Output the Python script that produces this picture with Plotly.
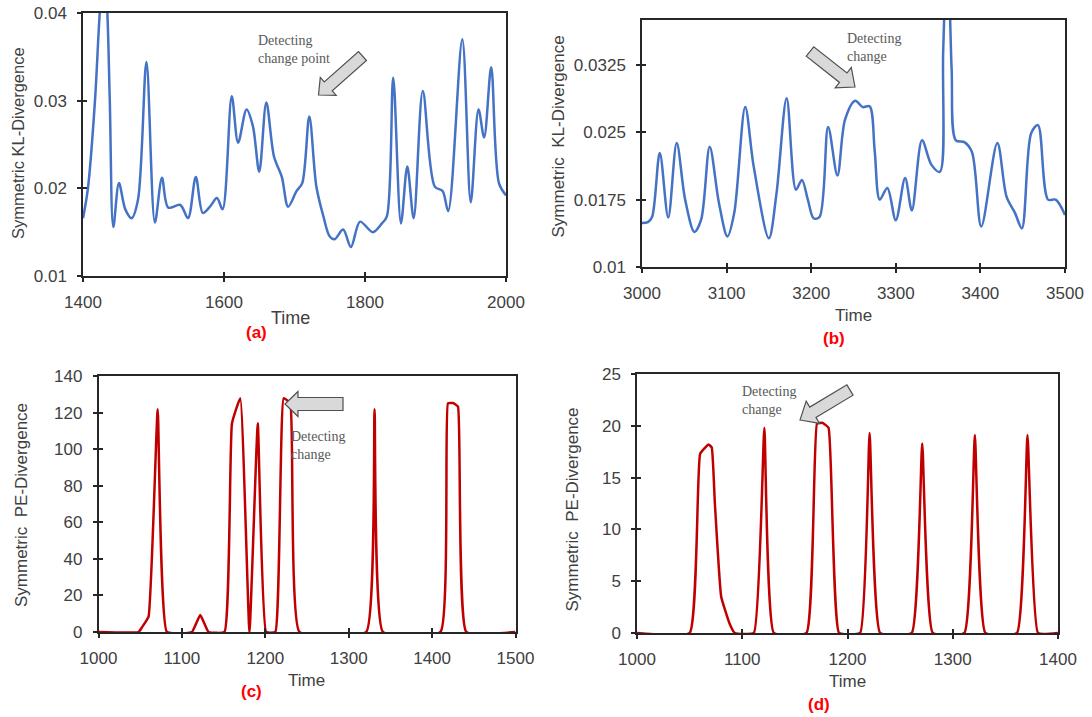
import math
import plotly.graph_objects as go

W, H = 1092, 717

# ---------------- data ----------------
kl_a_time = [1400, 1407, 1417, 1423, 1429, 1434, 1438, 1443, 1451, 1460, 1469, 1478, 1490, 1502,
             1512, 1521, 1538, 1549, 1560, 1570, 1580, 1590, 1598, 1611, 1620, 1632, 1641, 1650,
             1660, 1671, 1682, 1691, 1703, 1711, 1721, 1731, 1741, 1750, 1757, 1769, 1780, 1793,
             1811, 1824, 1831, 1840, 1851, 1860, 1869, 1882, 1899, 1910, 1918, 1938, 1950, 1961,
             1969, 1979, 1990, 2000]
kl_a_value = [0.0166, 0.0200, 0.0300, 0.0390, 0.0460, 0.0410, 0.0300, 0.0156, 0.0206, 0.0176,
              0.0166, 0.0187, 0.0344, 0.0161, 0.0212, 0.0178, 0.0181, 0.0166, 0.0213, 0.0172,
              0.0179, 0.0189, 0.0176, 0.0305, 0.0252, 0.0290, 0.0271, 0.0219, 0.0298, 0.0236,
              0.0213, 0.0179, 0.0197, 0.0206, 0.0282, 0.0202, 0.0168, 0.0145, 0.0142, 0.0153,
              0.0133, 0.0162, 0.0150, 0.0160, 0.0168, 0.0326, 0.0160, 0.0225, 0.0166, 0.0311,
              0.0202, 0.0197, 0.0174, 0.0370, 0.0184, 0.0290, 0.0258, 0.0338, 0.0206, 0.0192]

kl_b_time = [3000, 3007, 3012, 3021, 3031, 3041, 3051, 3062, 3070, 3080, 3091, 3101, 3109, 3122,
             3132, 3150, 3159, 3171, 3182, 3189, 3196, 3203, 3210, 3220, 3231, 3240, 3252, 3261,
             3269, 3275, 3281, 3290, 3300, 3311, 3319, 3331, 3342, 3352, 3356, 3361, 3366, 3371,
             3381, 3390, 3401, 3420, 3431, 3441, 3449, 3460, 3468, 3480, 3489, 3500]
kl_b_value = [0.0149, 0.0150, 0.0156, 0.0227, 0.0155, 0.0238, 0.0175, 0.0139, 0.0153, 0.0234,
              0.0171, 0.0134, 0.0160, 0.0278, 0.0212, 0.0132, 0.0182, 0.0288, 0.0186, 0.0197,
              0.0175, 0.0154, 0.0156, 0.0256, 0.0202, 0.0264, 0.0285, 0.0278, 0.0279, 0.0230,
              0.0175, 0.0188, 0.0152, 0.0199, 0.0163, 0.0241, 0.0214, 0.0206, 0.0340, 0.0470,
              0.0320, 0.0241, 0.0239, 0.0228, 0.0145, 0.0238, 0.0178, 0.0160, 0.0143, 0.0249,
              0.0258, 0.0175, 0.0175, 0.0158]

pe_c_time = [1000, 1048, 1052, 1060, 1071, 1082, 1112, 1122, 1132, 1151, 1160, 1170, 1181, 1191,
             1201, 1212, 1222, 1230, 1241, 1321, 1331, 1341, 1410, 1419, 1425, 1431, 1441, 1500]
pe_c_value = [0, 0, 2.5, 8.4, 121.8, 0, 0, 9.3, 0, 0, 114, 127.8, 0, 114.1,
              0, 0, 127.8, 125, 0, 0, 121.8, 0, 0, 125, 125.2, 123.3, 0, 0]

pe_d_time = [1000, 1050, 1060, 1068, 1071, 1074, 1080, 1088, 1093, 1111, 1121, 1130, 1161, 1171,
             1176, 1182, 1192, 1212, 1221, 1231, 1261, 1271, 1281, 1311, 1321, 1331, 1361, 1371,
             1381, 1400]
pe_d_value = [0, 0, 17.3, 18.2, 17.9, 12.5, 3.5, 0.9, 0, 0, 19.8, 0, 0, 20.2,
              20.3, 19.8, 0, 0, 19.3, 0, 0, 18.3, 0, 0, 19.1, 0, 0, 19.1,
              0, 0]

a_xticks = [1400, 1600, 1800, 2000]
a_yticks = [0.01, 0.02, 0.03, 0.04]
a_yticktext = ["0.01", "0.02", "0.03", "0.04"]
b_xticks = [3000, 3100, 3200, 3300, 3400, 3500]
b_yticks = [0.01, 0.0175, 0.025, 0.0325]
b_yticktext = ["0.01", "0.0175", "0.025", "0.0325"]
c_xticks = [1000, 1100, 1200, 1300, 1400, 1500]
c_yticks = [0, 20, 40, 60, 80, 100, 120, 140]
d_xticks = [1000, 1100, 1200, 1300, 1400]
d_yticks = [0, 5, 10, 15, 20, 25]

BLUE = "#4472C4"
RED = "#C00000"
AXC = "#262626"
TXT = "#404040"
SANS = "Liberation Sans, Arial, sans-serif"
SERIF = "Liberation Serif, Times New Roman, serif"


def fx(x):
    return x / W


def fy(y):
    return 1 - y / H


# plot-area boxes in pixels: left, top, right, bottom
boxes = {
    1: (83, 13, 506, 276),
    2: (642, 20, 1065, 267),
    3: (98.5, 376, 515.5, 632),
    4: (637, 374, 1058, 633),
}

specs = {
    1: dict(xr=[1400, 2000], yr=[0.01, 0.04], xt=a_xticks, yt=a_yticks, ytt=a_yticktext),
    2: dict(xr=[3000, 3500], yr=[0.01, 0.0375], xt=b_xticks, yt=b_yticks, ytt=b_yticktext),
    3: dict(xr=[1000, 1500], yr=[0, 140], xt=c_xticks, yt=c_yticks, ytt=[str(v) for v in c_yticks]),
    4: dict(xr=[1000, 1400], yr=[0, 25], xt=d_xticks, yt=d_yticks, ytt=[str(v) for v in d_yticks]),
}

fig = go.Figure()

# invisible traces that register the overlay axes (inner halves of the crossing ticks)
for i in specs:
    j = i + 4
    fig.add_trace(go.Scatter(x=[None], y=[None], mode="lines", xaxis="x" + str(j),
                             yaxis="y" + str(j), hoverinfo="skip", showlegend=False))

fig.add_trace(go.Scatter(x=kl_a_time, y=kl_a_value, mode="lines", xaxis="x", yaxis="y",
                         line=dict(color=BLUE, width=2.5, shape="spline", smoothing=0.9)))
fig.add_trace(go.Scatter(x=kl_b_time, y=kl_b_value, mode="lines", xaxis="x2", yaxis="y2",
                         line=dict(color=BLUE, width=2.5, shape="spline", smoothing=0.9)))
fig.add_trace(go.Scatter(x=pe_c_time, y=pe_c_value, mode="lines", xaxis="x3", yaxis="y3",
                         line=dict(color=RED, width=2.5, shape="spline", smoothing=0.35)))
fig.add_trace(go.Scatter(x=pe_d_time, y=pe_d_value, mode="lines", xaxis="x4", yaxis="y4",
                         line=dict(color=RED, width=2.5, shape="spline", smoothing=0.35)))


def axis_common():
    return dict(showline=True, linecolor=AXC, linewidth=1.5, mirror=True,
                ticks="outside", ticklen=4, tickwidth=1.5, tickcolor=AXC,
                showgrid=False, zeroline=False, automargin=False,
                tickfont=dict(family=SANS, size=17, color=TXT))


layout_axes = {}
for i, s in specs.items():
    l, t, r, b = boxes[i]
    sfx = "" if i == 1 else str(i)
    xa = axis_common()
    xa.update(domain=[fx(l), fx(r)], range=s["xr"], tickmode="array", tickvals=s["xt"],
              ticktext=[str(v) for v in s["xt"]], anchor="y" + sfx, ticklabelstandoff=6)
    ya = axis_common()
    ya.update(domain=[fy(b), fy(t)], range=s["yr"], tickmode="array", tickvals=s["yt"],
              ticktext=s["ytt"], anchor="x" + sfx, ticklabelstandoff=7)
    layout_axes["xaxis" + sfx] = xa
    layout_axes["yaxis" + sfx] = ya
    j = str(i + 4)
    layout_axes["xaxis" + j] = dict(overlaying="x" + sfx, anchor="y" + j, side="bottom",
                                    domain=[fx(l), fx(r)],
                                    range=s["xr"], tickmode="array", tickvals=s["xt"],
                                    ticks="inside", ticklen=4, tickwidth=1.5, tickcolor=AXC,
                                    showticklabels=False, showline=False, showgrid=False,
                                    zeroline=False, automargin=False)
    layout_axes["yaxis" + j] = dict(overlaying="y" + sfx, anchor="x" + j, side="left",
                                    domain=[fy(b), fy(t)],
                                    range=s["yr"], tickmode="array", tickvals=s["yt"],
                                    ticks="inside", ticklen=4, tickwidth=1.5, tickcolor=AXC,
                                    showticklabels=False, showline=False, showgrid=False,
                                    zeroline=False, automargin=False)

annotations = []


def add_text(x, y, text, size, color=TXT, family=SANS, angle=0, xanchor="center",
             yanchor="middle", align="center"):
    annotations.append(dict(x=fx(x), y=fy(y), xref="paper", yref="paper", text=text,
                            showarrow=False, textangle=angle, xanchor=xanchor,
                            yanchor=yanchor, align=align,
                            font=dict(family=family, size=size, color=color)))


# axis titles
add_text(18, 143, "Symmetric KL-Divergence", 16.5, angle=-90)
add_text(557.5, 137, "Symmetric\u00a0 KL-Divergence", 17, angle=-90)
add_text(21, 505, "Symmetric\u00a0 PE-Divergence", 17, angle=-90)
add_text(571.5, 510, "Symmetric\u00a0 PE-Divergence", 17, angle=-90)
add_text(290, 318, "Time", 18)
add_text(853, 315, "Time", 17)
add_text(306, 680, "Time", 17)
add_text(847, 681, "Time", 17)

# panel labels
for (x, y, lab) in [(256, 332, "(a)"), (834, 338, "(b)"), (251, 691, "(c)"), (819, 704, "(d)")]:
    add_text(x, y, "<b>" + lab + "</b>", 17, color="#FF0000")

# callout texts
add_text(256, 49.5, "Detecting<br>change point", 14, color="#595959", family=SERIF,
         xanchor="left", align="left")
add_text(845, 47, "Detecting<br>change", 14, color="#595959", family=SERIF,
         xanchor="left", align="left")
add_text(289, 445, "Detecting<br>change", 14, color="#595959", family=SERIF,
         xanchor="left", align="left")
add_text(740, 400, "Detecting<br>change", 14, color="#595959", family=SERIF,
         xanchor="left", align="left")


def block_arrow(tip, tail, shaft_hw, head_hw, head_len):
    tx, ty = tip
    cx, cy = tail
    dx, dy = cx - tx, cy - ty
    ln = math.hypot(dx, dy)
    ux, uy = dx / ln, dy / ln
    nx, ny = -uy, ux
    bx, by = tx + ux * head_len, ty + uy * head_len
    pts = [
        (tx, ty),
        (bx + nx * head_hw, by + ny * head_hw),
        (bx + nx * shaft_hw, by + ny * shaft_hw),
        (cx + nx * shaft_hw, cy + ny * shaft_hw),
        (cx - nx * shaft_hw, cy - ny * shaft_hw),
        (bx - nx * shaft_hw, by - ny * shaft_hw),
        (bx - nx * head_hw, by - ny * head_hw),
    ]
    path = "M " + " L ".join(f"{fx(x):.5f},{fy(y):.5f}" for x, y in pts) + " Z"
    return dict(type="path", path=path, xref="paper", yref="paper",
                fillcolor="#D9D9D9", line=dict(color="#505050", width=1.2), layer="above")


shapes = [
    block_arrow((318.5, 95), (362.5, 56), 6, 12, 13),
    block_arrow((855, 87), (810, 51.5), 6, 13, 15),
    block_arrow((285, 404), (343, 404), 6.5, 12.5, 13),
    block_arrow((800, 420), (850, 390), 6, 13, 15),
]

fig.update_layout(
    template="none",
    width=W, height=H, margin=dict(l=0, r=0, t=0, b=0, autoexpand=False),
    paper_bgcolor="white", plot_bgcolor="white", showlegend=False,
    annotations=annotations, shapes=shapes,
    **layout_axes,
)

fig.write_html("out.html")
